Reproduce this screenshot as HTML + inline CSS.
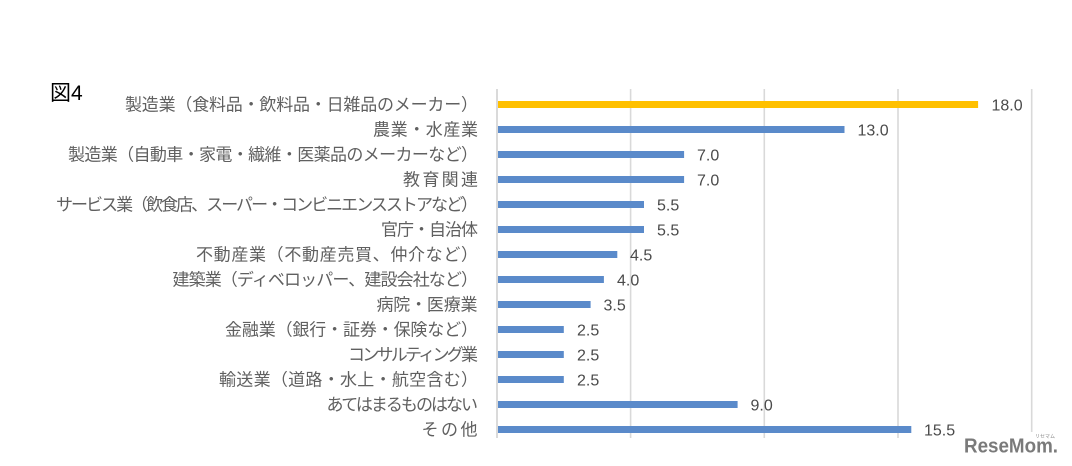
<!DOCTYPE html>
<html>
<head>
<meta charset="utf-8">
<style>
  html, body { margin:0; padding:0; background:#fff; }
  body { width:1072px; height:466px; overflow:hidden; }
  svg { display:block; }
</style>
</head>
<body>
<svg width="1072" height="466" viewBox="0 0 1072 466" xmlns="http://www.w3.org/2000/svg">
  <rect x="0" y="0" width="1072" height="466" fill="#ffffff"/>

  <!-- gridlines -->
  <g stroke="#d9d9d9" stroke-width="1.6">
    <line x1="630.6" y1="89" x2="630.6" y2="438"/>
    <line x1="764.3" y1="89" x2="764.3" y2="438"/>
    <line x1="898" y1="89" x2="898" y2="438"/>
    <line x1="1031.7" y1="89" x2="1031.7" y2="438"/>
  </g>
  <line x1="497" y1="89" x2="497" y2="438" stroke="#d0d0d0" stroke-width="1.6"/>

  <!-- bars -->
  <g>
    <rect x="498" y="101" width="480.1" height="7" fill="#FFC000"/>
    <rect x="498" y="126" width="346.5" height="7" fill="#5A8ACA"/>
    <rect x="498" y="151" width="186.1" height="7" fill="#5A8ACA"/>
    <rect x="498" y="176" width="186.1" height="7" fill="#5A8ACA"/>
    <rect x="498" y="201" width="146.0" height="7" fill="#5A8ACA"/>
    <rect x="498" y="226" width="146.0" height="7" fill="#5A8ACA"/>
    <rect x="498" y="251" width="119.3" height="7" fill="#5A8ACA"/>
    <rect x="498" y="276" width="105.9" height="7" fill="#5A8ACA"/>
    <rect x="498" y="301" width="92.6" height="7" fill="#5A8ACA"/>
    <rect x="498" y="326" width="65.8" height="7" fill="#5A8ACA"/>
    <rect x="498" y="351" width="65.8" height="7" fill="#5A8ACA"/>
    <rect x="498" y="376" width="65.8" height="7" fill="#5A8ACA"/>
    <rect x="498" y="401" width="239.6" height="7" fill="#5A8ACA"/>
    <rect x="498" y="426" width="413.3" height="7" fill="#5A8ACA"/>
  </g>

  <!-- value labels -->
  <g font-family="'Liberation Sans', sans-serif" font-size="16" fill="#4a4a4a">
    <text x="991.5" y="110.5">18.0</text>
    <text x="857.5" y="135.5">13.0</text>
    <text x="697" y="160.5">7.0</text>
    <text x="697" y="185.5">7.0</text>
    <text x="657" y="210.5">5.5</text>
    <text x="657" y="235.5">5.5</text>
    <text x="630" y="260.5">4.5</text>
    <text x="617" y="285.5">4.0</text>
    <text x="603.5" y="310.5">3.5</text>
    <text x="577" y="335.5">2.5</text>
    <text x="577" y="360.5">2.5</text>
    <text x="577" y="385.5">2.5</text>
    <text x="750.5" y="410.5">9.0</text>
    <text x="924" y="435.5">15.5</text>
  </g>

  <!-- category labels -->
  <g font-family="'Liberation Sans', 'Noto Sans CJK JP', sans-serif" font-size="17" fill="#606060">
    <text x="125" y="110.5" textLength="353">製造業（食料品・飲料品・日雑品のメーカー）</text>
    <text x="373" y="135.5" textLength="105">農業・水産業</text>
    <text x="68" y="160.5" textLength="410">製造業（自動車・家電・繊維・医薬品のメーカーなど）</text>
    <text x="403" y="185.5" textLength="75">教育関連</text>
    <text x="56" y="210.5" textLength="422">サービス業（飲食店、スーパー・コンビニエンスストアなど）</text>
    <text x="381" y="235.5" textLength="97">官庁・自治体</text>
    <text x="196" y="260.5" textLength="282">不動産業（不動産売買、仲介など）</text>
    <text x="172.5" y="285.5" textLength="305.5">建築業（ディベロッパー、建設会社など）</text>
    <text x="376.5" y="310.5" textLength="101">病院・医療業</text>
    <text x="225" y="335.5" textLength="253">金融業（銀行・証券・保険など）</text>
    <text x="348" y="360.5" textLength="130">コンサルティング業</text>
    <text x="219" y="385.5" textLength="259">輸送業（道路・水上・航空含む）</text>
    <text x="326.5" y="410.5" textLength="151.5">あてはまるものはない</text>
    <text x="421.5" y="435.5" textLength="56">その他</text>
  </g>

  <!-- figure label -->
  <text x="50" y="100" font-family="'Liberation Sans', 'Noto Sans CJK JP', sans-serif" font-size="21" fill="#000000">図4</text>

  <!-- logo -->
  <rect x="960" y="432" width="108" height="30" fill="#ffffff"/>
  <text x="964" y="452.5" font-family="'Liberation Sans', sans-serif" font-weight="bold" font-size="20" fill="#7a7a7a" textLength="94" lengthAdjust="spacingAndGlyphs">ReseMom.</text>
  <text x="1035" y="438" font-family="'Noto Sans CJK JP', sans-serif" font-size="5" fill="#8a8a8a">リセマム</text>
</svg>
</body>
</html>
